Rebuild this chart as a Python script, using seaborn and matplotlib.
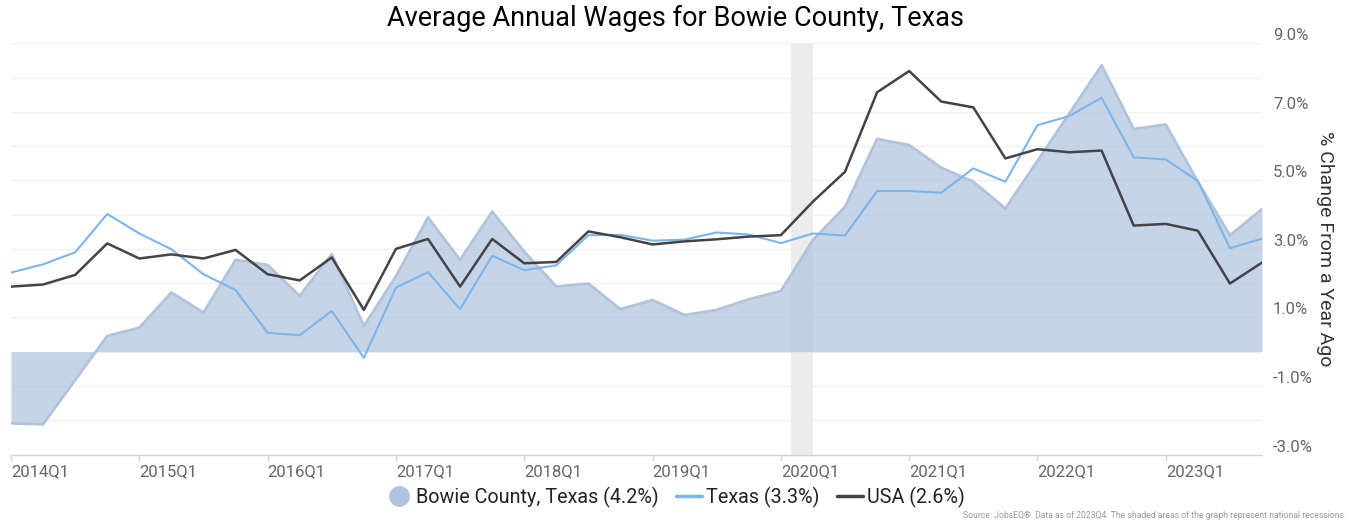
import numpy as np
import pandas as pd
import matplotlib
matplotlib.use("Agg")
import matplotlib.pyplot as plt
from matplotlib.lines import Line2D
import seaborn as sns

# quarters 2014Q1 .. 2023Q4
quarters = [f"{y}Q{q}" for y in range(2014, 2024) for q in range(1, 5)]

bowie = [-2.09, -2.12, -0.83, 0.46, 0.70, 1.73, 1.14, 2.68, 2.53, 1.63,
         2.85, 0.75, 2.20, 3.92, 2.68, 4.09, 2.92, 1.90, 1.99, 1.24,
         1.51, 1.07, 1.22, 1.53, 1.77, 3.26, 4.23, 6.21, 6.03, 5.37,
         4.96, 4.18, 5.57, 6.96, 8.36, 6.50, 6.63, 4.96, 3.40, 4.16]

texas = [2.31, 2.55, 2.90, 4.02, 3.45, 2.99, 2.26, 1.80, 0.55, 0.48,
         1.19, -0.18, 1.87, 2.32, 1.24, 2.80, 2.38, 2.52, 3.40, 3.41,
         3.24, 3.27, 3.48, 3.42, 3.17, 3.45, 3.39, 4.69, 4.69, 4.64,
         5.35, 4.96, 6.61, 6.88, 7.41, 5.67, 5.61, 4.98, 3.02, 3.30]

usa = [1.90, 1.96, 2.24, 3.16, 2.72, 2.84, 2.72, 2.97, 2.26, 2.08,
       2.75, 1.22, 3.00, 3.29, 1.90, 3.29, 2.58, 2.62, 3.51, 3.34,
       3.13, 3.22, 3.28, 3.36, 3.40, 4.38, 5.25, 7.57, 8.19, 7.30,
       7.13, 5.64, 5.91, 5.82, 5.87, 3.68, 3.73, 3.53, 1.99, 2.60]

recession = (24.33, 25.0)  # Feb-Apr 2020, in quarter index units

df = pd.DataFrame({"t": np.arange(len(quarters)), "quarter": quarters,
                   "Bowie County, Texas": bowie, "Texas": texas, "USA": usa})

sns.set_style("white")
plt.rcParams["font.family"] = ["Roboto", "DejaVu Sans"]

fig = plt.figure(figsize=(13.51, 5.23), dpi=100)
ax = fig.add_axes([11 / 1351, 68.5 / 523, 1251 / 1351, 411.2 / 523])

area_col = "#b0c4de"
tx_col = "#7cb5ec"
us_col = "#434348"

ax.axvspan(*recession, color="#ececec", lw=0, zorder=1)
ax.fill_between(df["t"], 0, df["Bowie County, Texas"], color=area_col,
                alpha=0.72, lw=0, zorder=2)
sns.lineplot(data=df, x="t", y="Bowie County, Texas", ax=ax, color=area_col,
             lw=2, zorder=3)
sns.lineplot(data=df, x="t", y="Texas", ax=ax, color=tx_col, lw=1.5, zorder=4)
sns.lineplot(data=df, x="t", y="USA", ax=ax, color=us_col, lw=1.8, zorder=5)

ax.set_xlim(0, len(quarters) - 1)
ax.set_ylim(-3, 9)

# x axis: a labelled tick at each Q1
xt = df["t"][::4]
ax.set_xticks(xt)
ax.set_xticklabels(df["quarter"][::4], ha="left", color="#666666", fontsize=12)
ax.tick_params(axis="x", length=4, width=1, color="#ccd6eb", pad=3,
               direction="out", bottom=True)

# y axis on the right
ax.yaxis.tick_right()
ax.yaxis.set_label_position("right")
ax.set_yticks(np.arange(-3, 10, 2))
ax.set_yticklabels([f"{v:.1f}%" for v in np.arange(-3, 10, 2)],
                   color="#666666", fontsize=12)
ax.set_yticks(np.arange(-3, 10, 1), minor=True)
ax.tick_params(axis="y", which="both", length=0, pad=8)
for lab in ax.get_yticklabels():
    lab.set_verticalalignment("bottom")
ax.grid(axis="y", which="both", color="#f2f2f2", lw=1, zorder=0)
ax.set_axisbelow(True)

ax.set_xlabel("")
ax.set_ylabel("% Change From a Year Ago", rotation=270, labelpad=15,
              fontsize=14, color="#333333")

for s in ["left", "right", "top"]:
    ax.spines[s].set_visible(False)
ax.spines["bottom"].set_color("#ccd6eb")
ax.spines["bottom"].set_linewidth(1)

fig.text(0.5, 1 - 18 / 523, "Average Annual Wages for Bowie County, Texas",
         ha="center", va="center", fontsize=19.5, color="#000000")

handles = [
    Line2D([], [], marker="o", ls="none", markersize=14, color=area_col),
    Line2D([], [], color=tx_col, lw=2.5),
    Line2D([], [], color=us_col, lw=2.5),
]
labels = ["Bowie County, Texas (4.2%)", "Texas (3.3%)", "USA (2.6%)"]
fig.legend(handles, labels, loc="center", bbox_to_anchor=(0.5, 1 - 497 / 523),
           ncol=3, frameon=False, fontsize=14.2, handlelength=1.3,
           handletextpad=0.2, columnspacing=0.9, labelcolor="#222222")

fig.text(1 - 5 / 1351, 1 - 516 / 523,
         "Source: JobsEQ\u00ae. Data as of 2023Q4. The shaded areas of the graph "
         "represent national recessions.",
         ha="right", va="center", fontsize=6.2, color="#999999")

fig.savefig("out.png", dpi=100)
